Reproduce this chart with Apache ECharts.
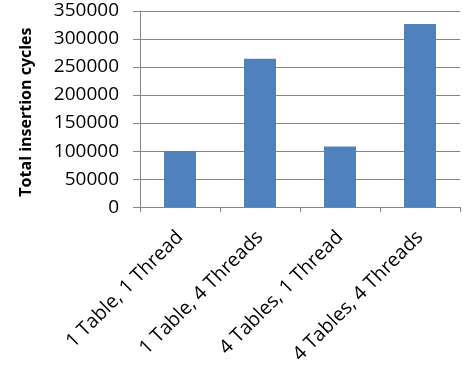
<!DOCTYPE html>
<html>
<head>
<meta charset="utf-8">
<script src="https://cdn.jsdelivr.net/npm/echarts@6/dist/echarts.min.js"></script>
<style>
html,body{margin:0;padding:0;background:#fff;}
#chart{width:463px;height:367px;}
</style>
</head>
<body>
<div id="chart"></div>
<script>
var categories = ['1 Table, 1 Thread', '1 Table, 4 Threads', '4 Tables, 1 Thread', '4 Tables, 4 Threads'];
var cycles = [100000, 265000, 108000, 327000];
var yAxisTitle = 'Total insertion cycles';

var chart = echarts.init(document.getElementById('chart'), null, {renderer: 'canvas'});
chart.setOption({
  animation: false,
  backgroundColor: '#ffffff',
  grid: {left: 140, right: 3, top: 11, bottom: 159.5, containLabel: false},
  xAxis: {
    type: 'category',
    data: categories,
    boundaryGap: true,
    axisLine: {show: true, lineStyle: {color: '#868686', width: 1}},
    axisTick: {show: true, alignWithLabel: false, length: 5, lineStyle: {color: '#868686'}},
    axisLabel: {
      rotate: 45, interval: 0, margin: 27,
      fontFamily: 'Open Sans', fontSize: 19.5, color: '#000'
    }
  },
  yAxis: {
    type: 'value',
    min: 0, max: 350000, interval: 50000,
    name: yAxisTitle,
    nameLocation: 'middle',
    nameGap: 106,
    nameRotate: 90,
    nameTextStyle: {fontFamily: 'Open Sans', fontWeight: 'bold', fontSize: 16, color: '#000', padding: [0, 6, 0, 0]},
    axisLine: {show: true, lineStyle: {color: '#868686', width: 1}},
    axisTick: {show: true, length: 7, lineStyle: {color: '#868686'}},
    splitLine: {show: true, lineStyle: {color: '#868686', width: 1}},
    axisLabel: {
      margin: 21,
      formatter: function (v) { return String(v); },
      fontFamily: 'Open Sans', fontSize: 19, color: '#000'
    }
  },
  series: [{
    type: 'bar',
    data: cycles,
    barWidth: 32,
    itemStyle: {color: '#4F81BD'}
  }]
});
</script>
</body>
</html>
